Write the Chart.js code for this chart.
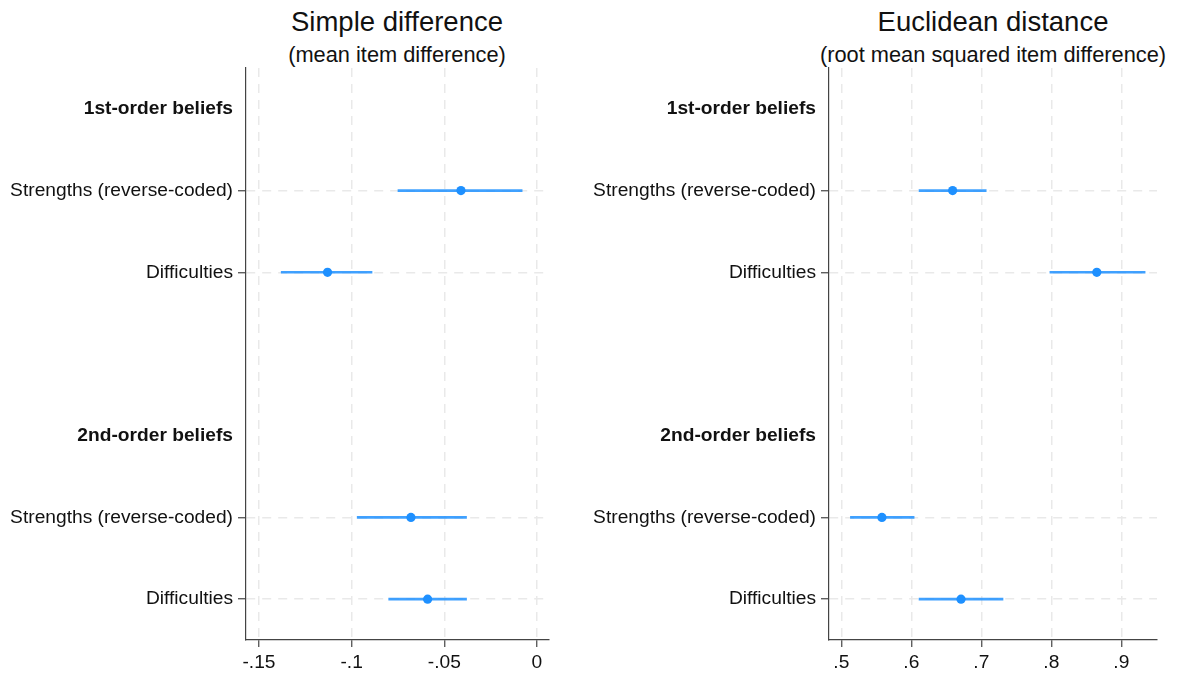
<!DOCTYPE html>
<html>
<head>
<meta charset="utf-8">
<script src="https://cdn.jsdelivr.net/npm/chart.js@4/dist/chart.umd.min.js"></script>
<style>
  html, body { margin: 0; padding: 0; background: #fff; }
  body { width: 1182px; height: 677px; position: relative; overflow: hidden; font-family: "Liberation Sans", Arial, sans-serif; color: #111; }
  canvas { position: absolute; top: 0; }
  .t { position: absolute; transform: translateX(-50%); white-space: nowrap; line-height: 1; }
  .t1 { font-size: 27.5px; top: 8px; }
  .t2 { font-size: 21.8px; top: 44px; }
</style>
</head>
<body>
<div class="t t1" style="left:397px">Simple difference</div>
<div class="t t2" style="left:397px">(mean item difference)</div>
<div class="t t1" style="left:993px">Euclidean distance</div>
<div class="t t2" style="left:993px">(root mean squared item difference)</div>
<canvas id="c1" width="590" height="677" style="left:0"></canvas>
<canvas id="c2" width="592" height="677" style="left:590px"></canvas>
<script>
// ---- data ----
const rowLabels = ['1st-order beliefs', 'Strengths (reverse-coded)', 'Difficulties', '', '2nd-order beliefs', 'Strengths (reverse-coded)', 'Difficulties'];

const simpleEst = [null, -0.041, -0.113, null, null, -0.068, -0.059];
const simpleLo  = [null, -0.075, -0.138, null, null, -0.097, -0.080];
const simpleHi  = [null, -0.008, -0.089, null, null, -0.038, -0.038];
const simpleTicks = [-0.15, -0.1, -0.05, 0];

const euclidEst = [null, 0.659, 0.865, null, null, 0.558, 0.671];
const euclidLo  = [null, 0.611, 0.798, null, null, 0.513, 0.611];
const euclidHi  = [null, 0.707, 0.934, null, null, 0.604, 0.731];
const euclidTicks = [0.5, 0.6, 0.7, 0.8, 0.9];

// ---- drawing ----
const FONT = '"Liberation Sans", Arial, sans-serif';
const BLUE = 'rgb(30,144,255)';
const BLUE_LINE = 'rgba(30,144,255,0.85)';
const GRID = '#e9e9e9';
const AXIS = '#444';
const LABEL_SIZE = 19.2;

function fmt(v) {
  if (Math.abs(v) < 1e-12) return '0';
  const s = String(Math.abs(+v.toFixed(4))).replace(/^0/, '');
  return (v < 0 ? '-' : '') + s;
}

function makeChart(id, est, lo, hi, ticks, xMin, xMax, yWidth, rightPad) {
  const ranges = est.map((e, i) => e === null ? null : [lo[i], hi[i]]);
  new Chart(document.getElementById(id), {
    type: 'bar',
    data: {
      labels: rowLabels,
      datasets: [
        {
          type: 'bar',
          data: ranges,
          backgroundColor: BLUE_LINE,
          borderWidth: 0,
          barThickness: 2,
          order: 2
        },
        {
          type: 'line',
          indexAxis: 'y',
          data: est,
          showLine: false,
          pointRadius: 4.6,
          pointBackgroundColor: BLUE,
          pointBorderWidth: 0,
          order: 1
        }
      ]
    },
    options: {
      indexAxis: 'y',
      responsive: false,
      animation: false,
      events: [],
      layout: { padding: { top: 68, right: rightPad, bottom: 0, left: 0 } },
      plugins: { legend: { display: false }, tooltip: { enabled: false }, title: { display: false } },
      scales: {
        x: {
          type: 'linear',
          min: xMin,
          max: xMax,
          afterBuildTicks: s => { s.ticks = ticks.map(v => ({ value: v })); },
          afterFit: s => { s.height = 37; },
          ticks: {
            callback: v => fmt(v),
            color: '#111',
            font: { family: FONT, size: LABEL_SIZE },
            padding: 4,
            maxRotation: 0,
            autoSkip: false
          },
          grid: {
            color: GRID,
            lineWidth: 1.5,
            tickColor: AXIS,
            tickLength: 7,
            tickWidth: 1.2,
            tickBorderDash: []
          },
          border: { display: true, color: AXIS, width: 1.2, dash: [9, 7] }
        },
        y: {
          type: 'category',
          offset: true,
          afterFit: s => { s.width = yWidth; },
          ticks: {
            color: '#111',
            autoSkip: false,
            padding: 5,
            font: ctx => ({
              family: FONT,
              size: LABEL_SIZE,
              weight: (est[ctx.index] === null && rowLabels[ctx.index]) ? 'bold' : 'normal'
            })
          },
          grid: {
            offset: false,
            color: ctx => est[ctx.index] === null ? 'rgba(0,0,0,0)' : GRID,
            lineWidth: 1.5,
            tickColor: ctx => est[ctx.index] === null ? 'rgba(0,0,0,0)' : AXIS,
            tickLength: 8,
            tickWidth: 1.2,
            tickBorderDash: []
          },
          border: { display: true, color: AXIS, width: 1.2, dash: [9, 7] }
        }
      }
    }
  });
}

makeChart('c1', simpleEst, simpleLo, simpleHi, simpleTicks, -0.157, 0.0065, 246, 41);
makeChart('c2', euclidEst, euclidLo, euclidHi, euclidTicks, 0.4824, 0.951, 239, 25);
</script>
</body>
</html>
